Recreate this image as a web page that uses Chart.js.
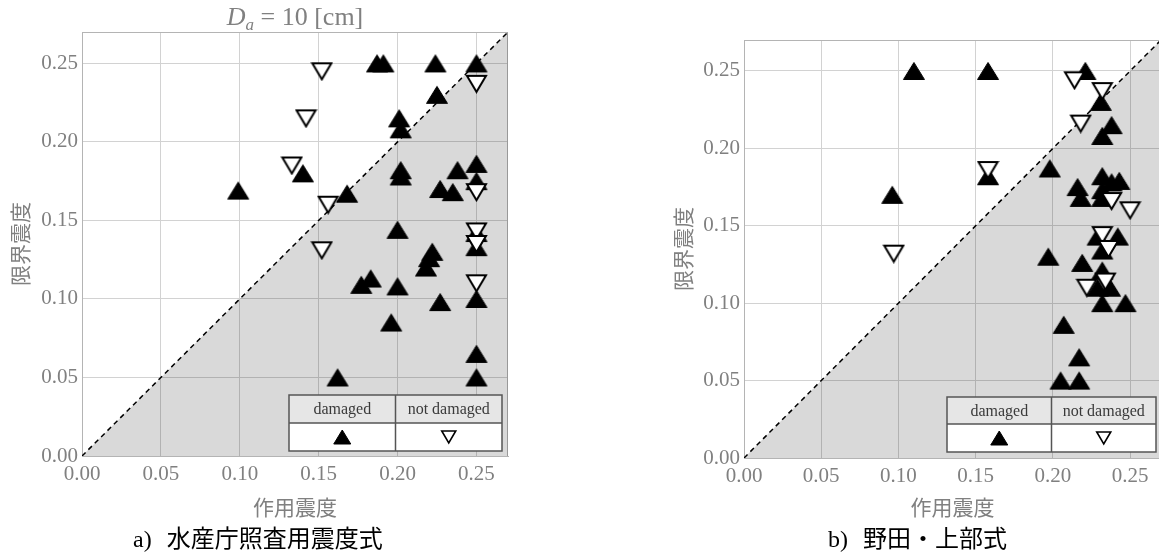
<!DOCTYPE html>
<html><head><meta charset="utf-8">
<script src="https://cdn.jsdelivr.net/npm/chart.js@4.4.1/dist/chart.umd.min.js"></script>
<style>
html,body{margin:0;padding:0;background:#fff;width:1159px;height:556px;overflow:hidden;position:relative}
canvas{position:absolute;top:0}
#ca{left:0}
#cb{left:580px}
.cap{position:absolute;top:524px;height:26px;line-height:26px;font-size:24px;color:#000;white-space:nowrap;font-family:"Liberation Serif",serif}
.cap .j{font-family:"Noto Sans CJK JP",sans-serif;margin-left:15px}
</style></head><body>
<canvas id="ca" width="560" height="556"></canvas>
<canvas id="cb" width="600" height="556"></canvas>
<div class="cap" style="left:133px">a)<span class="j">水産庁照査用震度式</span></div>
<div class="cap" style="left:828px">b)<span class="j">野田・上部式</span></div>
<script>
// ---- data ----
const tickValues = [0, 0.05, 0.10, 0.15, 0.20, 0.25];
const axisMax = 0.27;
const diagonal = [[0, 0], [0.27, 0.27]];
const xTitle = '作用震度';
const yTitle = '限界震度';
const legendLabels = ['damaged', 'not damaged'];
const titleA = ['D', 'a', ' = 10 [cm]'];

const aDamaged = [[0.099,0.169],[0.140,0.180],[0.168,0.167],[0.187,0.250],[0.191,0.250],[0.224,0.250],[0.250,0.250],[0.225,0.230],[0.201,0.215],[0.202,0.208],[0.202,0.182],[0.202,0.178],[0.238,0.182],[0.250,0.186],[0.250,0.175],[0.227,0.170],[0.235,0.168],[0.200,0.144],[0.250,0.142],[0.250,0.133],[0.222,0.130],[0.220,0.126],[0.218,0.120],[0.177,0.109],[0.183,0.113],[0.200,0.108],[0.227,0.098],[0.250,0.100],[0.196,0.085],[0.250,0.065],[0.250,0.050],[0.162,0.050]];
const aNotDamaged = [[0.152,0.245],[0.250,0.237],[0.142,0.215],[0.133,0.185],[0.156,0.160],[0.250,0.168],[0.152,0.131],[0.250,0.143],[0.250,0.135],[0.250,0.110]];
const bDamaged = [[0.110,0.250],[0.158,0.250],[0.221,0.250],[0.096,0.170],[0.158,0.182],[0.231,0.230],[0.238,0.215],[0.232,0.208],[0.198,0.187],[0.232,0.182],[0.238,0.178],[0.243,0.179],[0.216,0.175],[0.218,0.168],[0.232,0.173],[0.232,0.168],[0.229,0.143],[0.242,0.143],[0.232,0.134],[0.197,0.130],[0.219,0.126],[0.232,0.121],[0.229,0.110],[0.237,0.110],[0.232,0.100],[0.247,0.100],[0.207,0.086],[0.217,0.065],[0.205,0.050],[0.217,0.050]];
const bNotDamaged = [[0.097,0.132],[0.158,0.186],[0.214,0.244],[0.232,0.237],[0.218,0.216],[0.238,0.166],[0.250,0.160],[0.232,0.144],[0.236,0.135],[0.222,0.110],[0.234,0.114]];

// ---- marker images ----
function triCanvas(w, h, dir, fill, lw) {
  const c = document.createElement('canvas');
  c.width = w + 2; c.height = h + 2;
  const g = c.getContext('2d');
  const i = lw / 2;
  const x0 = 1 + i, x1 = 1 + w - i, xm = 1 + w / 2, yt = 1 + i, yb = 1 + h - i;
  g.beginPath();
  if (dir === 'up') { g.moveTo(xm, yt); g.lineTo(x1, yb); g.lineTo(x0, yb); }
  else { g.moveTo(x0, yt); g.lineTo(x1, yt); g.lineTo(xm, yb); }
  g.closePath();
  g.fillStyle = fill; g.fill();
  g.lineWidth = lw; g.strokeStyle = '#000'; g.stroke();
  return c;
}
const upImg = triCanvas(22, 18, 'up', '#000', 1);
const downImg = triCanvas(21, 18, 'down', '#fff', 2);

function tri(ctx, cx, cy, w, h, dir, fill, lw) {
  ctx.beginPath();
  if (dir === 'up') { ctx.moveTo(cx, cy - h/2); ctx.lineTo(cx + w/2, cy + h/2); ctx.lineTo(cx - w/2, cy + h/2); }
  else { ctx.moveTo(cx - w/2, cy - h/2); ctx.lineTo(cx + w/2, cy - h/2); ctx.lineTo(cx, cy + h/2); }
  ctx.closePath();
  ctx.fillStyle = fill; ctx.fill();
  ctx.lineWidth = lw; ctx.strokeStyle = '#000'; ctx.stroke();
}

function decoPlugin(L) {
  return {
    id: 'deco',
    beforeDatasetsDraw(chart) {
      const {ctx, chartArea: a} = chart;
      ctx.save();
      ctx.strokeStyle = '#b4b4b4'; ctx.lineWidth = 1;
      ctx.beginPath();
      ctx.moveTo(a.left, Math.round(a.top) + 0.5); ctx.lineTo(a.right, Math.round(a.top) + 0.5);
      ctx.moveTo(Math.round(a.right) - 0.5, a.top); ctx.lineTo(Math.round(a.right) - 0.5, a.bottom);
      ctx.stroke();
      ctx.restore();
    },
    afterDraw(chart) {
      const {ctx, chartArea: a} = chart;
      ctx.save();
      // legend table
      const g = L.leg;
      const x1 = a.right - g.gapR - g.w, y1 = a.bottom - g.gapB - g.h;
      ctx.fillStyle = '#e6e6e6'; ctx.fillRect(x1, y1, g.w, g.hh);
      ctx.fillStyle = '#ffffff'; ctx.fillRect(x1, y1 + g.hh, g.w, g.h - g.hh);
      ctx.strokeStyle = '#555'; ctx.lineWidth = 1.5;
      ctx.strokeRect(x1, y1, g.w, g.h);
      ctx.beginPath();
      ctx.moveTo(x1, y1 + g.hh); ctx.lineTo(x1 + g.w, y1 + g.hh);
      ctx.moveTo(x1 + g.w/2, y1); ctx.lineTo(x1 + g.w/2, y1 + g.h);
      ctx.stroke();
      ctx.fillStyle = '#3a3a3a';
      ctx.font = '16px "Liberation Serif"';
      ctx.textAlign = 'center'; ctx.textBaseline = 'middle';
      ctx.fillText(legendLabels[0], x1 + g.w/4, y1 + g.hh/2 + 1);
      ctx.fillText(legendLabels[1], x1 + 3*g.w/4, y1 + g.hh/2 + 1);
      const my = y1 + g.hh + (g.h - g.hh)/2;
      tri(ctx, x1 + g.w/4, my, 17, 14, 'up', '#000', 1);
      tri(ctx, x1 + 3*g.w/4, my, 14, 12, 'down', '#fff', 1.6);
      // title
      if (L.title) {
        const big = '26px "Liberation Serif"', bigI = 'italic 26px "Liberation Serif"', sub = 'italic 17px "Liberation Serif"';
        ctx.font = bigI; const w1 = ctx.measureText(L.title[0]).width;
        ctx.font = sub; const w2 = ctx.measureText(L.title[1]).width;
        ctx.font = big; const w3 = ctx.measureText(L.title[2]).width;
        let x = (a.left + a.right)/2 - (w1 + w2 + w3)/2;
        const by = 25;
        ctx.fillStyle = '#808080'; ctx.textAlign = 'left'; ctx.textBaseline = 'alphabetic';
        ctx.font = bigI; ctx.fillText(L.title[0], x, by); x += w1;
        ctx.font = sub; ctx.fillText(L.title[1], x, by + 5); x += w2;
        ctx.font = big; ctx.fillText(L.title[2], x, by);
      }
      ctx.restore();
    }
  };
}

function pts(arr) { return arr.map(p => ({x: p[0], y: p[1]})); }

function build(canvas, dmg, nd, L) {
  const tickFont = {family: 'Liberation Serif', size: 21};
  const titleFont = {family: 'Noto Sans CJK JP', size: 21};
  const setTicks = s => { s.ticks = tickValues.map(v => ({value: v})); };
  return new Chart(canvas, {
    type: 'scatter',
    data: {datasets: [
      {label: legendLabels[1], data: pts(nd), pointStyle: downImg, pointRadius: 11, pointHoverRadius: 11, order: 1},
      {label: legendLabels[0], data: pts(dmg), pointStyle: upImg, pointRadius: 11, pointHoverRadius: 11, order: 2},
      {type: 'line', label: 'diag', data: pts(diagonal), borderColor: '#000', borderWidth: 1.5, borderDash: [5, 4],
       pointRadius: 0, fill: 'origin', backgroundColor: 'rgba(0,0,0,0.15)', order: 3}
    ]},
    options: {
      responsive: false, animation: false, events: [],
      layout: {padding: {left: L.padLeft, top: L.padTop, right: L.padRight, bottom: L.padBottom}},
      plugins: {legend: {display: false}, tooltip: {enabled: false}},
      scales: {
        x: {type: 'linear', min: 0, max: axisMax,
            afterFit: s => { s.height = L.xH; }, afterBuildTicks: setTicks,
            ticks: {callback: v => v.toFixed(2), font: tickFont, color: '#808080', padding: L.xTickPad, maxRotation: 0, autoSkip: false},
            grid: {color: '#d2d2d2', lineWidth: 1, drawTicks: false},
            border: {color: '#b4b4b4', width: 1},
            title: {display: true, text: xTitle, font: titleFont, color: '#808080', padding: {top: 0, bottom: 0}}},
        y: {type: 'linear', min: 0, max: axisMax,
            afterFit: s => { s.width = L.yW; }, afterBuildTicks: setTicks,
            ticks: {callback: v => v.toFixed(2), font: tickFont, color: '#808080', padding: 4, autoSkip: false},
            grid: {color: '#d2d2d2', lineWidth: 1, drawTicks: false},
            border: {color: '#b4b4b4', width: 1},
            title: {display: true, text: yTitle, font: titleFont, color: '#808080', padding: {top: L.yTitlePad, bottom: 0}}}
      }
    },
    plugins: [decoPlugin(L)]
  });
}

build(document.getElementById('ca'), aDamaged, aNotDamaged, {
  padLeft: 0, padTop: 32, padRight: 52, padBottom: 36, xH: 64, yW: 82, xTickPad: 6, yTitlePad: 7,
  leg: {w: 213, h: 56, hh: 28, gapR: 6, gapB: 5}, title: titleA
});
build(document.getElementById('cb'), bDamaged, bNotDamaged, {
  padLeft: 82, padTop: 40, padRight: 19, padBottom: 36, xH: 62, yW: 82, xTickPad: 6, yTitlePad: 8,
  leg: {w: 209, h: 55, hh: 27, gapR: 5, gapB: 6}, title: null
});
</script>
</body></html>
